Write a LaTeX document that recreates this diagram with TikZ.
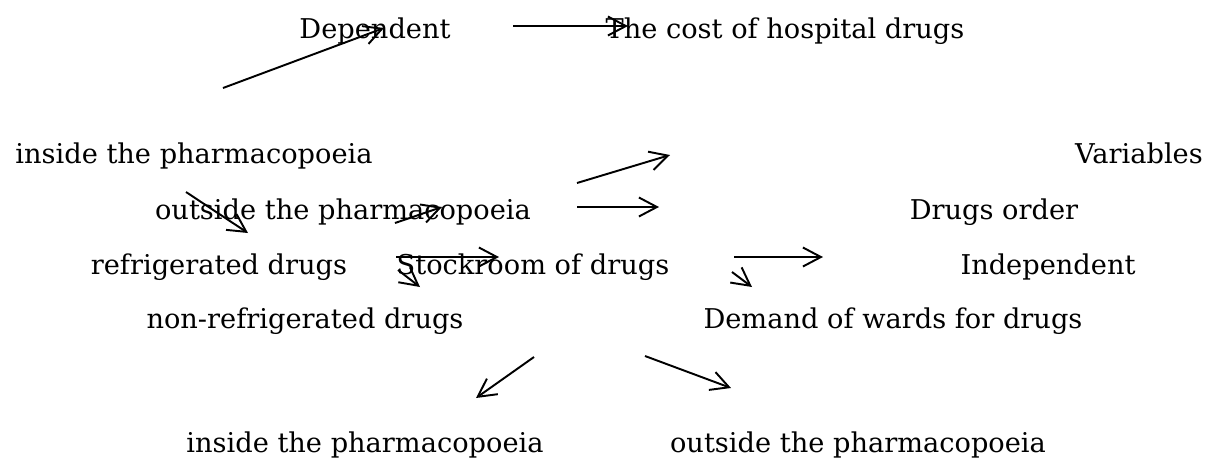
\documentclass[tikz,border=0pt]{standalone}
\usepackage{fontspec}
\setmainfont{DejaVu Serif}
\usepackage{tikz}
\usetikzlibrary{arrows.meta}

\begin{document}
\begin{tikzpicture}[
    x=0.02cm, y=-0.02cm,
    term/.style={
        inner sep=0pt,
        anchor=base,
        font=\fontsize{15.5}{18}\selectfont
    },
    arrow/.style={
        -{Straight Barb[length=3.6mm,width=3.8mm]},
        line width=1.1pt
    }
]
\useasboundingbox (0,0) rectangle (1215,461);

% texts
\node[term] (dep) at (375,38) {Dependent};
\node[term] (cost) at (785,38) {The cost of hospital drugs};
\node[term] (inA) at (194,163) {inside the pharmacopoeia};
\node[term] (var) at (1139,163) {Variables};
\node[term] (outA) at (343,219) {outside the pharmacopoeia};
\node[term] (order) at (994,219) {Drugs order};
\node[term] (refr) at (219,274) {refrigerated drugs};
\node[term] (stock) at (533,274) {Stockroom of drugs};
\node[term] (indep) at (1048,274) {Independent};
\node[term] (nonrefr) at (305,328) {non-refrigerated drugs};
\node[term] (demand) at (893,328) {Demand of wards for drugs};
\node[term] (inB) at (365,452) {inside the pharmacopoeia};
\node[term] (outB) at (858,452) {outside the pharmacopoeia};

% arrow ends
\coordinate (a1s) at (223,88);  \coordinate (a1e) at (384,28);
\coordinate (a2s) at (513,26);  \coordinate (a2e) at (628,26);
\coordinate (a3s) at (186,192); \coordinate (a3e) at (248,233);
\coordinate (a4s) at (395,223); \coordinate (a4e) at (442,207);
\coordinate (a5s) at (396,257); \coordinate (a5e) at (499,257);
\coordinate (a6s) at (398,270); \coordinate (a6e) at (420,287);
\coordinate (a7s) at (577,183); \coordinate (a7e) at (670,155);
\coordinate (a8s) at (577,207); \coordinate (a8e) at (659,207);
\coordinate (a9s) at (734,257); \coordinate (a9e) at (823,257);
\coordinate (a10s) at (732,272); \coordinate (a10e) at (752,287);
\coordinate (a11s) at (534,357); \coordinate (a11e) at (476,398);
\coordinate (a12s) at (645,356); \coordinate (a12e) at (731,388);

\foreach \i in {1,...,12}
    \draw[arrow] (a\i s) -- (a\i e);

\end{tikzpicture}
\end{document}
